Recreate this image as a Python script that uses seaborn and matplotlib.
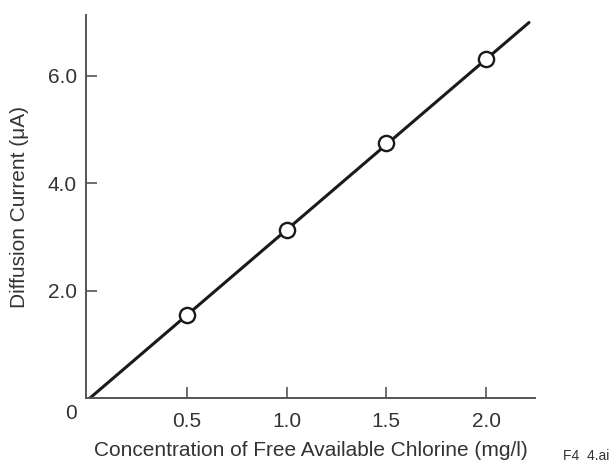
import matplotlib
matplotlib.use('agg')
import pandas as pd
import seaborn as sns
import matplotlib.pyplot as plt

# measured points (mg/l vs uA)
conc = [0.5, 1.0, 1.5, 2.0]
current = [1.55, 3.13, 4.75, 6.31]

# calibration line drawn through origin
line_conc = [0.015, 2.215]
line_current = [0.0, 6.99]

x_ticks = [0.5, 1.0, 1.5, 2.0]
y_ticks = [2.0, 4.0, 6.0]


def main(output):
	sns.set_style("ticks")
	plt.rcParams['font.family'] = ['Liberation Sans', 'DejaVu Sans']
	text_col = "#333333"
	spine_col = "#555555"

	fig = plt.figure(figsize=(6.16, 4.66), dpi=100)
	ax = fig.add_axes([0.1396, 0.1459, 0.7289, 0.8219])

	pts = pd.DataFrame({"conc": conc, "current": current})
	line = pd.DataFrame({"conc": line_conc, "current": line_current})

	sns.lineplot(data=line, x="conc", y="current", ax=ax, color="#1a1a1a", lw=2.2)
	sns.scatterplot(data=pts, x="conc", y="current", ax=ax, s=120, marker="o",
					facecolor="white", edgecolor="#1a1a1a", linewidth=1.7, zorder=3)

	ax.set_xlim(-0.005, 2.245)
	ax.set_ylim(0, 7.13)
	ax.set_xticks(x_ticks)
	ax.set_xticklabels(["%.1f" % v for v in x_ticks])
	ax.set_yticks(y_ticks)
	ax.set_yticklabels(["%.1f" % v for v in y_ticks])

	sns.despine(ax=ax)
	for s in ["left", "bottom"]:
		ax.spines[s].set_color(spine_col)
		ax.spines[s].set_linewidth(1.4)

	ax.tick_params(axis="both", direction="in", length=8, width=1.2, color=spine_col,
				   labelsize=15, labelcolor=text_col)
	ax.tick_params(axis="x", pad=10)
	ax.tick_params(axis="y", pad=6.5)

	ax.set_xlabel("Concentration of Free Available Chlorine (mg/l)", fontsize=15, color=text_col)
	ax.set_ylabel("Diffusion Current (μA)", fontsize=15, color=text_col)
	ax.xaxis.set_label_coords(0.5, -0.112)
	ax.yaxis.set_label_coords(-0.128, 0.5)

	ax.annotate("0", xy=(0, 0), xycoords="data", xytext=(-11.5, -11), textcoords="offset points",
				ha="center", va="center", fontsize=15, color=text_col)

	fig.text(0.914, 0.0215, "F4  4.ai", fontsize=10, color=text_col, ha="left", va="center")

	fig.savefig(output, dpi=100)


if __name__ == "__main__":
	main("out.png")
